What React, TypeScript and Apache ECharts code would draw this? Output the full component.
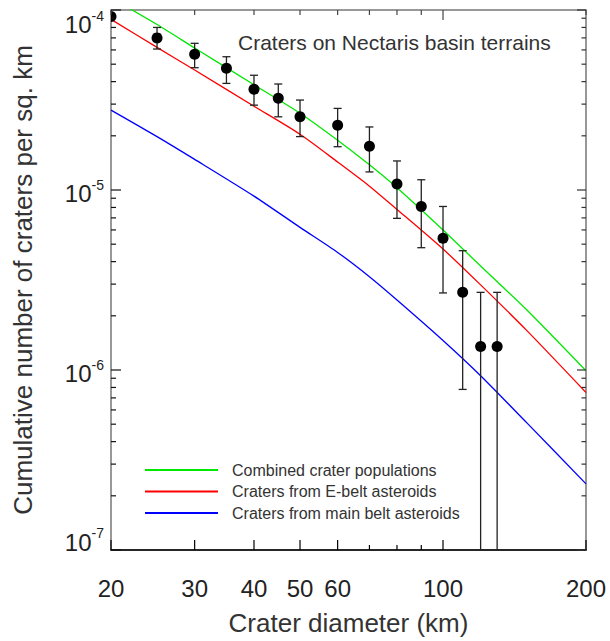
import React, { useEffect, useRef } from 'react';
import * as echarts from 'echarts';

const FONT = '"Liberation Sans", Arial, Helvetica, sans-serif';

// Axis ranges
const X_MIN = 20;
const X_MAX = 200;
const Y_MIN = 1e-7;
const Y_MAX = 1e-4;

// Tick values
const X_TICKS_LABELED = [20, 30, 40, 50, 60, 100, 200];
const X_TICKS_MINOR = [70, 80, 90];
const Y_DECADES = [1e-7, 1e-6, 1e-5, 1e-4];
const Y_MINOR_MANTISSAS = [2, 3, 4, 5, 6, 7, 8, 9];

// Model curves (crater diameter km -> cumulative number per sq. km)
const LINE_D = [20, 25, 30, 40, 50, 60, 70, 80, 100, 120, 150, 200];
const COMBINED = [1.17e-4, 8.3e-5, 6.15e-5, 3.84e-5, 2.67e-5, 1.89e-5, 1.38e-5, 1.03e-5, 6.0e-6, 3.78e-6, 2.16e-6, 9.9e-7];
const EBELT = [8.87e-5, 6.2e-5, 4.64e-5, 2.92e-5, 2.04e-5, 1.43e-5, 1.05e-5, 7.8e-6, 4.7e-6, 2.97e-6, 1.66e-6, 7.5e-7];
const MAINBELT = [2.78e-5, 1.98e-5, 1.48e-5, 9.25e-6, 6.2e-6, 4.5e-6, 3.3e-6, 2.45e-6, 1.46e-6, 9.3e-7, 5.1e-7, 2.33e-7];

// Observed craters on Nectaris basin terrains
const PT_D = [20, 25, 30, 35, 40, 45, 50, 60, 70, 80, 90, 100, 110, 120, 130];
const PT_N = [9.2e-5, 7.0e-5, 5.67e-5, 4.74e-5, 3.63e-5, 3.23e-5, 2.55e-5, 2.29e-5, 1.75e-5, 1.08e-5, 8.1e-6, 5.4e-6, 2.7e-6, 1.35e-6, 1.35e-6];
const PT_HI = [9.2e-5, 8.0e-5, 6.53e-5, 5.5e-5, 4.34e-5, 3.88e-5, 3.16e-5, 2.84e-5, 2.24e-5, 1.45e-5, 1.14e-5, 8.1e-6, 4.6e-6, 2.7e-6, 2.7e-6];
const PT_LO = [9.2e-5, 6.07e-5, 4.78e-5, 3.91e-5, 2.96e-5, 2.55e-5, 1.98e-5, 1.74e-5, 1.26e-5, 6.96e-6, 4.78e-6, 2.68e-6, 7.8e-7, 1e-8, 1e-8];

const SERIES_NAMES = [
  'Combined crater populations',
  'Craters from E-belt asteroids',
  'Craters from main belt asteroids',
];
const SERIES_COLORS = ['#00e800', '#ff0000', '#0000ff'];

const TITLE = 'Craters on Nectaris basin terrains';
const X_NAME = 'Crater diameter (km)';
const Y_NAME = 'Cumulative number of craters per sq. km';

function buildOption(): any {
  const lines = [COMBINED, EBELT, MAINBELT].map((vals, i) => ({
    name: SERIES_NAMES[i],
    type: 'line',
    data: LINE_D.map((d, j) => [d, vals[j]]),
    symbol: 'none',
    showSymbol: false,
    smooth: 0.25,
    clip: true,
    lineStyle: { color: SERIES_COLORS[i], width: 1.3 },
    itemStyle: { color: SERIES_COLORS[i] },
    z: 3,
    silent: true,
  }));

  const xTickData = [
    ...X_TICKS_LABELED.map((v) => [v, Y_MIN, 1]),
    ...X_TICKS_MINOR.map((v) => [v, Y_MIN, 0]),
  ];
  const yTickData: number[][] = [];
  Y_DECADES.forEach((d) => yTickData.push([X_MIN, d, 1]));
  Y_DECADES.slice(0, 3).forEach((d) =>
    Y_MINOR_MANTISSAS.forEach((m) => yTickData.push([X_MIN, m * d, 0]))
  );

  const xTicks = {
    name: 'xTicks',
    type: 'custom',
    silent: true,
    z: 6,
    data: xTickData,
    renderItem: (_p: any, api: any) => {
      const v = api.value(0);
      const labeled = api.value(2) === 1;
      const b = api.coord([v, Y_MIN]);
      const t = api.coord([v, Y_MAX]);
      const isDecade = Math.abs(Math.log10(v) - Math.round(Math.log10(v))) < 1e-9;
      const children: any[] = [
        {
          type: 'line',
          shape: { x1: b[0], y1: b[1], x2: b[0], y2: b[1] - (labeled ? 10 : 5) },
          style: { stroke: '#000', lineWidth: 1.2 },
        },
        {
          type: 'line',
          shape: { x1: t[0], y1: t[1], x2: t[0], y2: t[1] + (isDecade ? 10 : 5) },
          style: { stroke: '#444', lineWidth: 1.2 },
        },
      ];
      if (labeled) {
        children.push({
          type: 'text',
          x: b[0],
          y: b[1] + 38,
          style: {
            text: String(v),
            fontSize: 24,
            fontFamily: FONT,
            fill: '#222',
            align: 'center',
            verticalAlign: 'middle',
          },
        });
      }
      return { type: 'group', children };
    },
  };

  const yTicks = {
    name: 'yTicks',
    type: 'custom',
    silent: true,
    z: 6,
    data: yTickData,
    renderItem: (_p: any, api: any) => {
      const v = api.value(1);
      const major = api.value(2) === 1;
      const l = api.coord([X_MIN, v]);
      const r = api.coord([X_MAX, v]);
      return {
        type: 'group',
        children: [
          {
            type: 'line',
            shape: { x1: l[0], y1: l[1], x2: l[0] + (major ? 10 : 5), y2: l[1] },
            style: { stroke: '#111', lineWidth: 1.2 },
          },
          {
            type: 'line',
            shape: { x1: r[0], y1: r[1], x2: r[0] - (major ? 9 : 4.5), y2: r[1] },
            style: { stroke: '#333', lineWidth: 1.2 },
          },
        ],
      };
    },
  };

  const points = {
    name: 'Observed',
    type: 'custom',
    silent: true,
    clip: true,
    z: 5,
    data: PT_D.map((d, i) => [d, PT_N[i], PT_HI[i], PT_LO[i]]),
    renderItem: (params: any, api: any) => {
      const d = api.value(0);
      const c = api.coord([d, api.value(1)]);
      const h = api.coord([d, api.value(2)]);
      const l = api.coord([d, api.value(3)]);
      const cs = params.coordSys;
      const cap = 4;
      const st = { stroke: '#222', lineWidth: 1.3 };
      return {
        type: 'group',
        clipPath: { type: 'rect', shape: { x: cs.x, y: cs.y, width: cs.width, height: cs.height } },
        children: [
          { type: 'line', shape: { x1: c[0], y1: h[1], x2: c[0], y2: l[1] }, style: st },
          { type: 'line', shape: { x1: c[0] - cap, y1: h[1], x2: c[0] + cap, y2: h[1] }, style: st },
          { type: 'line', shape: { x1: c[0] - cap, y1: l[1], x2: c[0] + cap, y2: l[1] }, style: st },
          { type: 'circle', shape: { cx: c[0], cy: c[1], r: 5.5 }, style: { fill: '#000' } },
        ],
      };
    },
  };

  return {
    animation: false,
    backgroundColor: '#fff',
    textStyle: { fontFamily: FONT },
    title: {
      text: TITLE,
      left: 238,
      top: 32,
      padding: 0,
      textStyle: { fontSize: 21, fontWeight: 'normal', color: '#333', fontFamily: FONT },
    },
    legend: {
      data: SERIES_NAMES,
      orient: 'vertical',
      left: 145,
      top: 462,
      padding: 0,
      icon: 'rect',
      itemWidth: 73,
      itemHeight: 2,
      itemGap: 5.5,
      selectedMode: false,
      textStyle: { fontSize: 16, color: '#333', fontFamily: FONT, padding: [0, 0, 0, 9] },
    },
    grid: {
      left: 111,
      top: 10,
      width: 475,
      height: 540,
      show: true,
      borderColor: '#777',
      borderWidth: 1.5,
      backgroundColor: 'transparent',
    },
    xAxis: {
      type: 'log',
      logBase: 10,
      min: X_MIN,
      max: X_MAX,
      name: X_NAME,
      nameLocation: 'middle',
      nameGap: 60,
      nameTextStyle: { fontSize: 26, color: '#333', fontFamily: FONT },
      axisLine: { show: true, lineStyle: { color: '#000', width: 1.5 } },
      axisTick: { show: false },
      axisLabel: { show: false },
      splitLine: { show: false },
      minorTick: { show: false },
    },
    yAxis: {
      type: 'log',
      logBase: 10,
      min: Y_MIN,
      max: Y_MAX,
      name: Y_NAME,
      nameLocation: 'middle',
      nameGap: 75,
      nameTextStyle: { fontSize: 26, color: '#333', fontFamily: FONT },
      axisLine: { show: false },
      axisTick: { show: false },
      splitLine: { show: false },
      axisLabel: {
        margin: 7,
        color: '#222',
        fontFamily: FONT,
        formatter: (v: number) => {
          const e = Math.round(Math.log10(v));
          if (v >= Y_MAX * 0.999) return `{b2|10}{s2|${e}}`;
          if (v <= Y_MIN * 1.001) return `{b3|10}{s3|${e}}`;
          return `{b|10}{s|${e}}`;
        },
        rich: {
          b: { fontSize: 24, fontFamily: FONT, color: '#222', padding: [6, 0, 0, 0] },
          s: { fontSize: 14, fontFamily: FONT, color: '#222', verticalAlign: 'top', padding: [3, 0, 0, 0] },
          b2: { fontSize: 24, fontFamily: FONT, color: '#222', padding: [28, 0, 0, 0] },
          s2: { fontSize: 14, fontFamily: FONT, color: '#222', verticalAlign: 'top', padding: [25, 0, 0, 0] },
          b3: { fontSize: 24, fontFamily: FONT, color: '#222', padding: [4, 0, 20, 0] },
          s3: { fontSize: 14, fontFamily: FONT, color: '#222', verticalAlign: 'top', padding: [0, 0, 0, 0] },
        },
      },
    },
    series: [...lines, points, xTicks, yTicks],
  };
}

export default function App() {
  const ref = useRef<HTMLDivElement>(null);
  useEffect(() => {
    if (!ref.current) return;
    const chart = echarts.init(ref.current, undefined, { renderer: 'svg' });
    chart.setOption(buildOption());
    return () => chart.dispose();
  }, []);
  return (
    <div
      ref={ref}
      style={{ position: 'fixed', left: 0, top: 0, width: 610, height: 641, background: '#fff' }}
    />
  );
}
